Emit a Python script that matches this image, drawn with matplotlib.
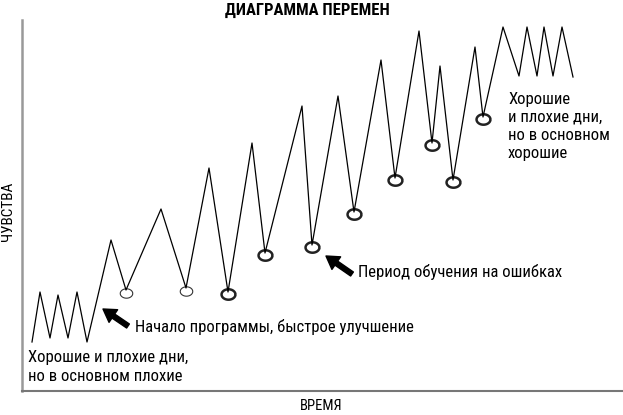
import numpy as np
import matplotlib.pyplot as plt
from matplotlib.path import Path
from matplotlib.font_manager import fontManager

# time / feeling values
time = [10, 18, 28, 36, 46, 55, 65, 89, 104, 139, 164, 187, 206, 230, 243,
        280, 290, 316, 332, 359, 373, 397, 410, 418, 431, 453, 461, 481, 497,
        505, 515, 522, 531, 540, 551]
feeling = [49, 99, 53, 96, 53, 99, 49, 151, 101, 182, 103, 223, 99, 248, 138,
           285, 146, 295, 179, 331, 213, 360, 248, 325, 211, 344, 274, 364, 315,
           364, 315, 364, 315, 364, 314]

thin_circles = [8, 10]
thick_circles = [12, 14, 16, 18, 20, 22, 24, 26]

notes = [
    ("Хорошие и плохие дни,\nно в основном плохие", 6, 41, 1.35),
    ("Начало программы, быстрое улучшение", 113, 64, 1.0),
    ("Период обучения на ошибках", 336, 119, 1.0),
    ("Хорошие\nи плохие дни,\nно в основном\nхорошие", 486, 299, 1.25),
]
arrows = [((81, 82), (106, 65)), ((304, 135), (330, 117))]

names = {f.name for f in fontManager.ttflist}
main = next((n for n in ["Roboto Condensed", "PT Sans Narrow", "Fira Sans Condensed"]
             if n in names), "Roboto")
plt.rcParams["font.family"] = [main, "DejaVu Sans"]

fig = plt.figure(figsize=(6.23, 4.15), dpi=100)
ax = fig.add_axes([22 / 623, 24 / 415, 601 / 623, 371 / 415])
ax.set_xlim(0, 601)
ax.set_ylim(0, 371)

ax.plot(time, feeling, color="black", lw=0.9, zorder=3)

# slightly flattened circles at the low points
t = np.linspace(0, 2 * np.pi, 60)
ell = Path(np.column_stack([np.cos(t), 0.75 * np.sin(t)]))
ax.plot([time[i] for i in thin_circles], [feeling[i] - 3 for i in thin_circles],
        ls="none", marker=ell, ms=9, mfc="none", mec="#333333", mew=0.8)
ax.plot([time[i] for i in thick_circles], [feeling[i] - 2 for i in thick_circles],
        ls="none", marker=ell, ms=10, mfc="none", mec="#222222", mew=1.8)

for txt, x, y, ls in notes:
    ax.text(x, y, txt, fontsize=12, va="top" if "\n" in txt else "center",
            ha="left", linespacing=ls)

for tip, tail in arrows:
    ax.annotate("", xy=tip, xytext=tail,
                arrowprops=dict(width=3.5, headwidth=11, headlength=9,
                                color="black", shrink=0))

for s in ["top", "right"]:
    ax.spines[s].set_visible(False)
ax.spines["left"].set_color("#999999")
ax.spines["bottom"].set_color("#777777")
ax.spines["left"].set_linewidth(1.8)
ax.spines["bottom"].set_linewidth(1.5)
ax.set_xticks([])
ax.set_yticks([])

fig.text(307 / 623, 1 - 10 / 415, "ДИАГРАММА ПЕРЕМЕН", ha="center", va="center",
         fontsize=12, fontweight="bold")
fig.text(321 / 623, 1 - 406 / 415, "ВРЕМЯ", ha="center", va="center", fontsize=10.5)
fig.text(8 / 623, 1 - 211 / 415, "ЧУВСТВА", ha="center", va="center",
         fontsize=11, rotation=90)

fig.savefig("out.png", dpi=100)
